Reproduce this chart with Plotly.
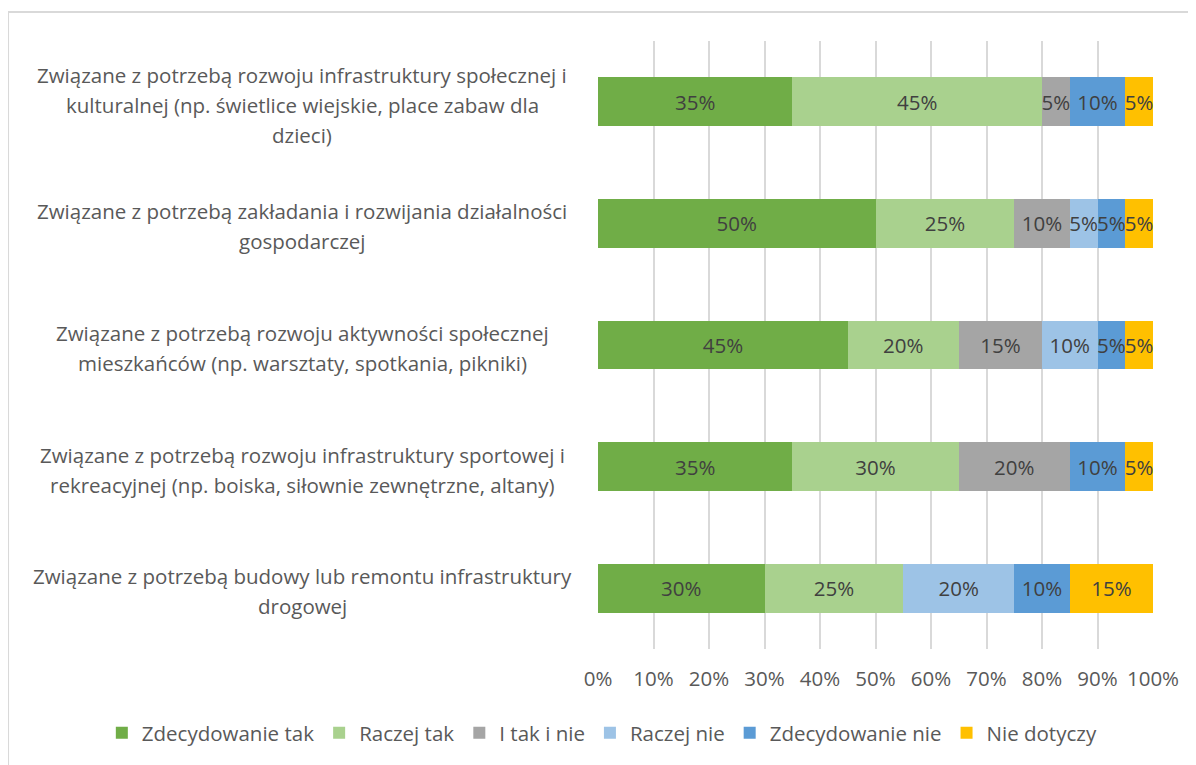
import plotly.graph_objects as go

# kategorie od gory do dolu
categories = [
    "Związane z potrzebą rozwoju infrastruktury społecznej i<br>kulturalnej (np. świetlice wiejskie, place zabaw dla<br>dzieci)",
    "Związane z potrzebą zakładania i rozwijania działalności<br>gospodarczej",
    "Związane z potrzebą rozwoju aktywności społecznej<br>mieszkańców (np. warsztaty, spotkania, pikniki)",
    "Związane z potrzebą rozwoju infrastruktury sportowej i<br>rekreacyjnej (np. boiska, siłownie zewnętrzne, altany)",
    "Związane z potrzebą budowy lub remontu infrastruktury<br>drogowej",
]

zdecydowanie_tak = [35, 50, 45, 35, 30]
raczej_tak = [45, 25, 20, 30, 25]
i_tak_i_nie = [5, 10, 15, 20, 0]
raczej_nie = [0, 5, 10, 0, 20]
zdecydowanie_nie = [10, 5, 5, 10, 10]
nie_dotyczy = [5, 5, 5, 5, 15]

series = [
    ("Zdecydowanie tak", zdecydowanie_tak, "#70AD47"),
    ("Raczej tak", raczej_tak, "#A9D18E"),
    ("I tak i nie", i_tak_i_nie, "#A5A5A5"),
    ("Raczej nie", raczej_nie, "#9DC3E6"),
    ("Zdecydowanie nie", zdecydowanie_nie, "#5B9BD5"),
    ("Nie dotyczy", nie_dotyczy, "#FFC000"),
]

FONT = "Open Sans"
FS = 20.5

fig = go.Figure()
for name, vals, col in series:
    fig.add_trace(go.Bar(
        y=categories, x=vals, name=name, orientation="h",
        marker=dict(color=col, line=dict(width=0)),
        text=[f"{v}%" if v > 0 else "" for v in vals],
        textposition="inside", insidetextanchor="middle", textangle=0,
        textfont=dict(size=FS, color="#404040", family=FONT),
        hoverinfo="x+name",
    ))

# etykiety kategorii wysrodkowane jak w Excelu, kazda linia osobno (wiekszy odstep)
for c in categories:
    lines = c.split("<br>")
    n = len(lines)
    for i, ln in enumerate(lines):
        fig.add_annotation(
            x=-0.533, y=c, xref="paper", yref="y", text=ln, showarrow=False,
            xanchor="center", yanchor="middle", align="center",
            yshift=-(i - (n - 1) / 2) * 30 - 3,
            font=dict(size=FS, color="#595959", family=FONT),
        )

# ramka wykresu
fig.add_shape(type="rect", xref="paper", yref="paper",
              x0=-1.063, x1=2, y0=-1, y1=1.0477,
              line=dict(color="#D9D9D9", width=2), fillcolor="rgba(0,0,0,0)", layer="below")

# strona ma 8px marginesu, wiec wszystko przesuniete o 8px
fig.update_layout(
    barmode="stack", bargap=0.6,
    width=1196, height=765,
    margin=dict(l=590, r=51, t=33, b=124, autoexpand=False),
    plot_bgcolor="white", paper_bgcolor="white",
    font=dict(family=FONT, size=FS, color="#595959"),
    uniformtext=dict(mode="show", minsize=FS),
    showlegend=True,
    legend=dict(orientation="h", x=-0.894, xanchor="left", y=-0.138, yanchor="middle",
                font=dict(size=FS, color="#595959"), traceorder="normal",
                itemwidth=30, tracegroupgap=0),
)
fig.update_xaxes(range=[0, 100], tickvals=list(range(0, 101, 10)),
                 ticktext=[f"{v}%" for v in range(0, 101, 10)],
                 showgrid=True, gridcolor="#D9D9D9", gridwidth=2,
                 zeroline=False, showline=False, ticks="", ticklabelstandoff=15,
                 tickfont=dict(size=FS, color="#595959"))
fig.update_yaxes(autorange="reversed", showticklabels=False, showgrid=False,
                 zeroline=False, showline=False, ticks="")

fig.write_html("out.html")
